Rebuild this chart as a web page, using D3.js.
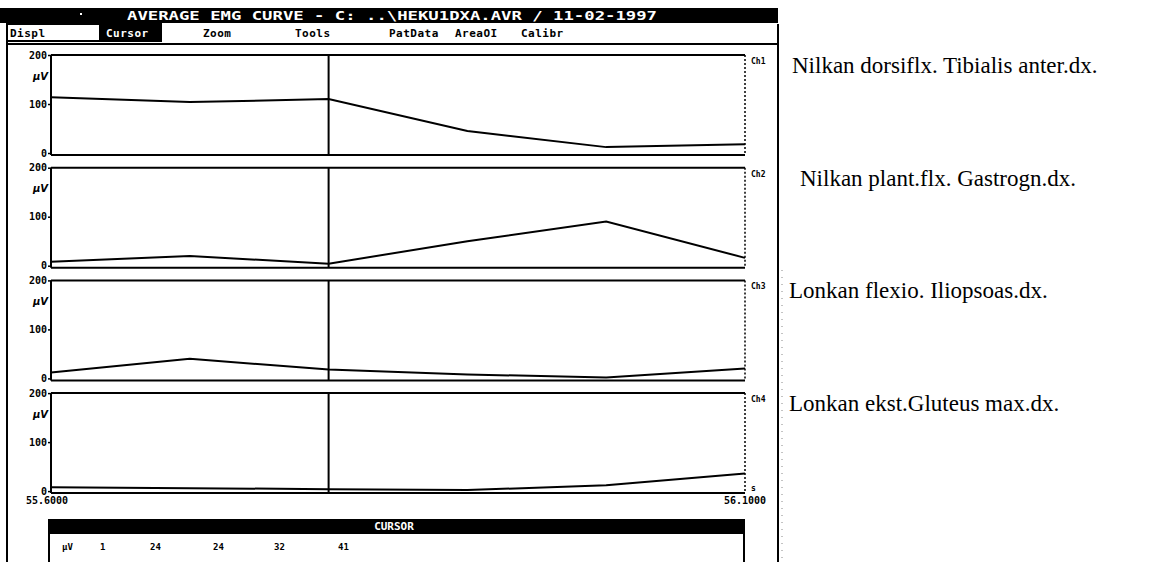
<!DOCTYPE html>
<html><head><meta charset="utf-8">
<script src="https://cdn.jsdelivr.net/npm/d3@7"></script>
<style>
body{margin:0;background:#fff}
svg{display:block}
.px{font-family:"DejaVu Sans Mono",monospace;font-weight:bold}
</style>
</head><body><div id="chart"></div>
<script>
var W = 1159, H = 562;

var times = [55.6, 55.7, 55.8, 55.9, 56.0, 56.1];
var ch1 = [114, 104, 110, 45, 12, 18];
var ch2 = [8, 20, 4, 50, 90, 16];
var ch3 = [12, 40, 18, 8, 2, 20];
var ch4 = [8, 6, 4, 2, 12, 36];
var series = [ch1, ch2, ch3, ch4];
var channels = ["Ch1", "Ch2", "Ch3", "Ch4"];
var muscles = ["Nilkan dorsiflx. Tibialis anter.dx.",
	"Nilkan plant.flx. Gastrogn.dx.",
	"Lonkan flexio. Iliopsoas.dx.",
	"Lonkan ekst.Gluteus max.dx."];
var yTicks = [0, 100, 200];
var cursorTime = 55.8;
var cursorValues = ["\u00b5V", "1", "24", "24", "32", "41"];
var menuItems = ["Displ", "Cursor", "Zoom", "Tools", "PatData", "AreaOI", "Calibr"];
var title = "AVERAGE EMG CURVE - C: ..\\HEKU1DXA.AVR / 11-02-1997";

// layout
var left = 51, right = 745, top0 = 55, step = 112.7, ph = 98;
var menuX = [10, 106, 203, 295, 389, 455, 521];
var cursorX = [62, 100, 150, 213, 274, 338];
var annotX = [792, 800, 789, 789];

var svg = d3.select("#chart").append("svg")
	.attr("width", W)
	.attr("height", H);

var x = d3.scaleLinear().domain([times[0], times[times.length - 1]]).range([left, right]);

// screen frame
svg.append("line").attr("x1", 7).attr("x2", 7).attr("y1", 24).attr("y2", H)
	.attr("stroke", "#000").attr("stroke-width", 2);
svg.append("line").attr("x1", 778).attr("x2", 778).attr("y1", 24).attr("y2", H)
	.attr("stroke", "#000").attr("stroke-width", 2);
svg.append("line").attr("x1", 782).attr("x2", 782).attr("y1", 270).attr("y2", H)
	.attr("stroke", "#888").attr("stroke-width", 1).attr("stroke-dasharray", "1,6");

// title bar
svg.append("rect").attr("x", 0).attr("y", 8).attr("width", 778).attr("height", 15).attr("fill", "#000");
svg.append("rect").attr("x", 80).attr("y", 13).attr("width", 2).attr("height", 2).attr("fill", "#fff");
svg.append("text").attr("class", "px")
	.attr("x", 127).attr("y", 20)
	.attr("font-size", "12px")
	.attr("textLength", 530).attr("lengthAdjust", "spacingAndGlyphs")
	.attr("fill", "#fff")
	.text(title);

// menu row
svg.append("rect").attr("x", 7).attr("y", 24).attr("width", 93).attr("height", 17)
	.attr("fill", "none").attr("stroke", "#000").attr("stroke-width", 2);
svg.append("rect").attr("x", 100).attr("y", 23).attr("width", 62).attr("height", 19).attr("fill", "#000");
svg.append("line").attr("x1", 7).attr("x2", 778).attr("y1", 44).attr("y2", 44)
	.attr("stroke", "#000").attr("stroke-width", 2);
svg.selectAll("text.menu")
	.data(menuItems)
	.enter()
	.append("text")
	.attr("class", "px menu")
	.attr("x", function(d, i){ return menuX[i]; })
	.attr("y", 37)
	.attr("font-size", "11px")
	.attr("letter-spacing", "0.5px")
	.attr("fill", function(d, i){ return i == 1 ? "#fff" : "#000"; })
	.text(function(d){ return d; });

// panels
series.forEach(function(vals, i){
	var t = top0 + i * step, b = t + ph;
	var y = d3.scaleLinear().domain([0, 200]).range([b, t]);
	var g = svg.append("g");

	g.append("line").attr("x1", left).attr("x2", right).attr("y1", y(200)).attr("y2", y(200))
		.attr("stroke", "#000").attr("stroke-width", 2);
	g.append("line").attr("x1", left).attr("x2", right).attr("y1", y(0) + 2).attr("y2", y(0) + 2)
		.attr("stroke", "#000").attr("stroke-width", 2);
	g.append("line").attr("x1", right).attr("x2", right).attr("y1", y(200)).attr("y2", y(0) + 2)
		.attr("stroke", "#000").attr("stroke-width", 1.5).attr("stroke-dasharray", "2,2");

	var axis = d3.axisLeft(y).tickValues(yTicks).tickSize(3).tickPadding(1);
	var ax = g.append("g").attr("transform", "translate(" + left + ",0)").call(axis);
	ax.select(".domain").attr("stroke-width", 2).attr("d", "M0," + y(200) + "V" + (y(0) + 2));
	ax.selectAll(".tick line").attr("stroke-width", 1.5);
	ax.selectAll(".tick text")
		.attr("class", "px")
		.attr("font-size", "10px")
		.attr("fill", "#000");

	g.append("text").attr("x", 33).attr("y", y(150))
		.attr("font-family", "DejaVu Sans").attr("font-style", "italic").attr("font-weight", "bold")
		.attr("font-size", "10px").text("\u00b5V");

	g.append("line").attr("x1", x(cursorTime)).attr("x2", x(cursorTime))
		.attr("y1", y(200)).attr("y2", y(0) + 2)
		.attr("stroke", "#000").attr("stroke-width", 2);

	var line = d3.line()
		.x(function(d, j){ return x(times[j]); })
		.y(function(d){ return y(d); });
	g.append("path").datum(vals)
		.attr("d", line)
		.attr("fill", "none")
		.attr("stroke", "#000")
		.attr("stroke-width", 2);

	g.append("text").attr("class", "px")
		.attr("x", right + 6).attr("y", y(200) + 9)
		.attr("font-size", "8px").text(channels[i]);

	svg.append("text")
		.attr("x", annotX[i]).attr("y", y(200) + 18)
		.attr("font-family", "Liberation Serif")
		.attr("font-size", "23px")
		.attr("fill", "#000")
		.text(muscles[i]);

	if (i == series.length - 1) {
		g.append("text").attr("class", "px")
			.attr("x", right + 6).attr("y", y(0))
			.attr("font-size", "8px").text("s");
	}
});

// time labels
var tb = top0 + 3 * step + ph;
svg.append("text").attr("class", "px").attr("x", x(times[0]) - 4).attr("y", tb + 13)
	.attr("text-anchor", "middle").attr("font-size", "10px")
	.text(d3.format(".4f")(times[0]));
svg.append("text").attr("class", "px").attr("x", x(times[times.length - 1])).attr("y", tb + 13)
	.attr("text-anchor", "middle").attr("font-size", "10px")
	.text(d3.format(".4f")(times[times.length - 1]));

// cursor box
svg.append("rect").attr("x", 48).attr("y", 519).attr("width", 697).attr("height", 15).attr("fill", "#000");
svg.append("text").attr("class", "px").attr("x", 394).attr("y", 530)
	.attr("text-anchor", "middle").attr("font-size", "11px").attr("fill", "#fff")
	.text("CURSOR");
svg.append("line").attr("x1", 49).attr("x2", 49).attr("y1", 534).attr("y2", H)
	.attr("stroke", "#000").attr("stroke-width", 2);
svg.append("line").attr("x1", 744).attr("x2", 744).attr("y1", 534).attr("y2", H)
	.attr("stroke", "#000").attr("stroke-width", 2);
svg.selectAll("text.cur")
	.data(cursorValues)
	.enter()
	.append("text")
	.attr("class", "px cur")
	.attr("x", function(d, i){ return cursorX[i]; })
	.attr("y", 550)
	.attr("font-size", "9px")
	.text(function(d){ return d; });
</script>
</body></html>
